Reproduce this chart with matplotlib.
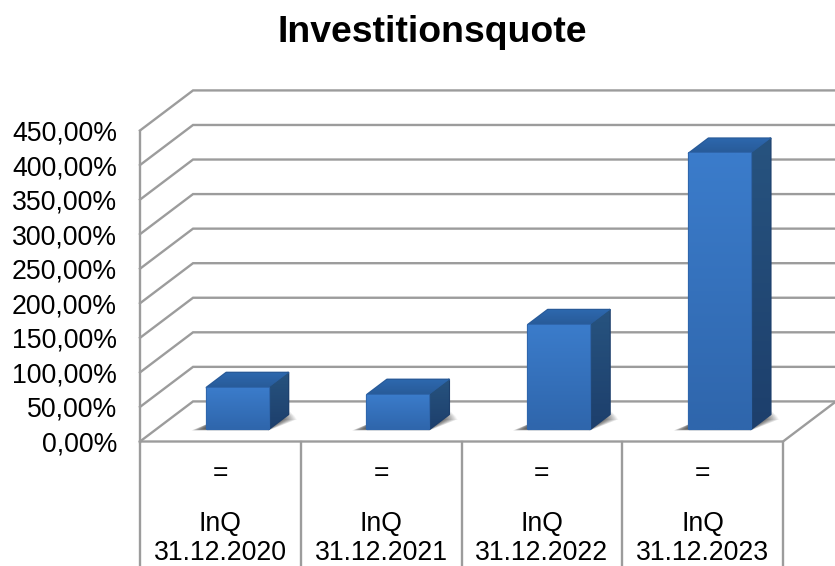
import numpy as np
from matplotlib import pyplot as plt
from matplotlib.patches import Polygon

plt.rcParams['font.family'] = ['Liberation Sans', 'DejaVu Sans']

# values
categories = ['31.12.2020', '31.12.2021', '31.12.2022', '31.12.2023']
series_name = 'InQ'
operators = ['=', '=', '=', '=']
values = [60, 50, 151, 399]
ticks = [0, 50, 100, 150, 200, 250, 300, 350, 400, 450]
tick_labels = ['0,00%', '50,00%', '100,00%', '150,00%', '200,00%',
               '250,00%', '300,00%', '350,00%', '400,00%', '450,00%']

# 3d look: how far the back wall is shifted, in data units
DEPTH_X = 0.33
DEPTH_Y = 58
BAR_WIDTH = 0.385
BAR_FRONT = 0.31
BAR_BACK = 0.68
GRID = '#9c9c9c'
LW = 1.7


def project(x, y, depth=0.0):
    return x + DEPTH_X * depth, y + DEPTH_Y * depth


def gradient_face(ax, pts, c_top, c_bottom, z):
    # polygon filled by a vertical gradient
    pts = np.array(pts)
    poly = Polygon(pts, closed=True, facecolor=c_bottom, edgecolor=c_bottom,
                   lw=1.6, joinstyle='round', zorder=z, clip_on=False)
    ax.add_patch(poly)
    top = np.array(plt.matplotlib.colors.to_rgb(c_top))
    bottom = np.array(plt.matplotlib.colors.to_rgb(c_bottom))
    t = np.linspace(0, 1, 64)[:, None]
    img = (top * (1 - t) + bottom * t)[:, None, :]
    im = ax.imshow(img, extent=(pts[:, 0].min(), pts[:, 0].max(), pts[:, 1].min(), pts[:, 1].max()),
                   origin='upper', aspect='auto', zorder=z + 0.1, interpolation='bilinear')
    im.set_clip_path(poly)


fig = plt.figure(figsize=(8.35, 5.66), dpi=100)
ax = fig.add_axes([140 / 835, 1 - 441.5 / 566, 643 / 835, 311 / 566])
n = len(categories)

# walls and floor
x_right = n + DEPTH_X * 1.0
for t in ticks:
    x0, y0 = project(0, t)
    x1, y1 = project(0, t, 1)
    ax.plot([x0, x1, x_right + 0.1], [y0, y1, y1], color=GRID, lw=LW, clip_on=False, zorder=1,
            solid_joinstyle='miter')
ax.plot([0, 0], [0, ticks[-1]], color=GRID, lw=LW, clip_on=False, zorder=1)

x0, y0 = project(n, 0)
x1, y1 = project(n, 0, 1)
ax.plot([0, x0, x1], [0, y0, y1], color=GRID, lw=LW, clip_on=False, zorder=1)

# the table under the chart
for i in range(n + 1):
    ax.plot([i, i], [0, -190], color=GRID, lw=LW, clip_on=False, zorder=1)

for i, v in enumerate(values):
    left = i + 0.505 - BAR_WIDTH / 2
    right = i + 0.505 + BAR_WIDTH / 2

    # soft shadow on the floor
    for k in range(10):
        f = 1 - k / 10
        grow = 0.095 * f ** 0.8
        sx0, sy0 = project(left - grow, -2 * f, BAR_FRONT)
        sx1, sy1 = project(right, -2 * f, BAR_FRONT)
        sx2, sy2 = project(right + grow, 5 * (1 - f), BAR_BACK - 0.12 * f)
        sx3, sy3 = project(left, 5 * (1 - f), BAR_BACK - 0.12 * f)
        ax.add_patch(Polygon([(sx0, sy0), (sx1, sy1), (sx2, sy2), (sx3, sy3)], closed=True,
                             facecolor='#303030', edgecolor='none', alpha=0.13, zorder=2,
                             clip_on=False))

    a = project(left, 0, BAR_FRONT)
    b = project(right, 0, BAR_FRONT)
    c = project(right, v, BAR_FRONT)
    d = project(left, v, BAR_FRONT)
    e = project(right, 0, BAR_BACK)
    f = project(right, v, BAR_BACK)
    g = project(left, v, BAR_BACK)

    gradient_face(ax, [b, e, f, c], '#27537f', '#1d3f6c', 3)
    gradient_face(ax, [d, c, f, g], '#2d68ad', '#285a98', 3)
    gradient_face(ax, [a, b, c, d], '#3b7ccb', '#2f66ac', 4)

ax.set_xlim(0, n)
ax.set_ylim(0, ticks[-1])
ax.set_yticks(ticks)
ax.set_yticklabels(tick_labels, fontsize=19.2, color='black')
ax.set_xticks([])
ax.tick_params(axis='y', length=0, pad=16.5)
for s in ax.spines.values():
    s.set_visible(False)
ax.patch.set_visible(False)

# table text
for i, cat in enumerate(categories):
    ax.annotate(operators[i], (i + 0.5, 0), xytext=(0, -33), textcoords='offset pixels',
                ha='center', va='center', fontsize=19.2, annotation_clip=False)
    ax.annotate(series_name, (i + 0.5, 0), xytext=(0, -83), textcoords='offset pixels',
                ha='center', va='center', fontsize=19.2, annotation_clip=False)
    ax.annotate(cat, (i + 0.5, 0), xytext=(0, -112), textcoords='offset pixels',
                ha='center', va='center', fontsize=19.2, annotation_clip=False)

fig.text(432 / 835, 1 - 32 / 566, 'Investitionsquote', ha='center', va='center',
         fontsize=26.9, fontweight='bold')

fig.savefig('out.png', dpi=100)
